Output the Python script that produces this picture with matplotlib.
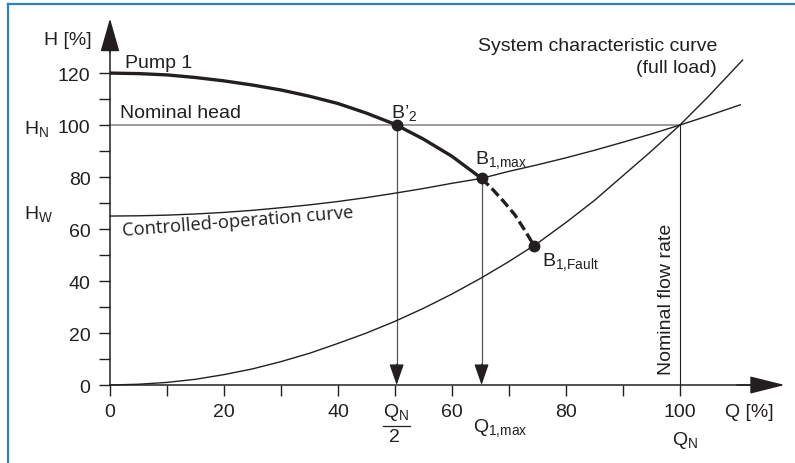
import matplotlib
matplotlib.use('Agg')
import matplotlib.pyplot as plt
from matplotlib.lines import Line2D

plt.rcParams['font.family'] = ['Liberation Sans', 'DejaVu Sans']
plt.rcParams['mathtext.fontset'] = 'custom'
plt.rcParams['mathtext.rm'] = 'Liberation Sans'
plt.rcParams['mathtext.default'] = 'regular'

# Kurven, Q und H in %
q_pump = [0, 5, 10, 15, 20, 25, 30, 35, 40, 45, 50, 55, 60, 65.2]
h_pump = [120, 119.8, 119.3, 118.3, 117.0, 115.4, 113.5, 111.1, 108.3, 104.6, 100.3, 94.6, 88.0, 79.5]
q_pump_fault = [65.2, 67, 69, 71, 73, 74.4]
h_pump_fault = [79.5, 75.6, 70.8, 65.6, 58.8, 53.6]

q_system = [0, 5, 10, 15, 20, 25, 30, 35, 40, 45, 50, 55, 60, 65, 70, 75, 80, 85, 90, 95, 100, 105, 111]
h_system = [0, 0.3, 1, 2.2, 4, 6.2, 9, 12.2, 16, 20, 24.5, 29.5, 35, 41, 47.5, 54.5, 62.5,
            71, 80.5, 90, 100, 111, 125]

q_ctrl = [0, 5, 10, 15, 20, 25, 30, 35, 40, 45, 50, 55, 60, 65.2, 70, 75, 80, 85, 90, 95, 100, 105, 110.6]
h_ctrl = [65, 65.1, 65.35, 65.8, 66.4, 67.2, 68.2, 69.3, 70.6, 72.1, 73.8, 75.6, 77.6, 79.5,
          82.2, 84.7, 87.4, 90.3, 93.4, 96.6, 100, 103.6, 107.8]

# Betriebspunkte
pt_names = ["B’$_2$", "B$_{1{,}max}$", "B$_{1{,}Fault}$"]
pt_q = [50.3, 65.2, 74.4]
pt_h = [100, 79.5, 53.6]

x_ticks = [0, 20, 40, 60, 80, 100]
x_minor = [10, 30, 50, 70, 90]
y_ticks = [0, 20, 40, 60, 80, 100, 120]
y_minor = [10, 30, 50, 70, 90, 110]

nominal_q = 100
nominal_h = 100

ink = '#231f20'

fig = plt.figure(figsize=(7.95, 4.64), dpi=100)
ax = fig.add_axes([0, 0, 1, 1])
ax.set_xlim(-19.3, 120.2)
ax.set_ylim(-30, 148.5)
ax.patch.set_alpha(0)

# Rahmen oben und links
fig.add_artist(Line2D([8 / 795, 8 / 795], [0, 1 - 5 / 464], transform=fig.transFigure,
                      color='#2f80c2', lw=1.6))
fig.add_artist(Line2D([8 / 795, 1], [1 - 5 / 464, 1 - 5 / 464], transform=fig.transFigure,
                      color='#2f80c2', lw=1.6))

# Achsen
for s in ['top', 'right']:
    ax.spines[s].set_visible(False)
ax.spines['left'].set_position(('data', 0))
ax.spines['bottom'].set_position(('data', 0))
ax.spines['left'].set_bounds(0, 138)
ax.spines['bottom'].set_bounds(0, 116)
for s in ['left', 'bottom']:
    ax.spines[s].set_linewidth(1.1)
    ax.spines[s].set_color(ink)

ax.set_xticks(x_ticks)
ax.set_xticks(x_minor, minor=True)
ax.set_yticks(y_ticks)
ax.set_yticks(y_minor, minor=True)
ax.tick_params(which='both', direction='out', length=8, width=1.0, color=ink,
               labelsize=14, labelcolor=ink)
ax.tick_params(axis='x', pad=5)
ax.tick_params(axis='y', pad=6)

ax.annotate('', xy=(0, 141), xytext=(0, 128),
            arrowprops=dict(arrowstyle='-|>,head_length=2.1,head_width=0.6',
                            color=ink, lw=1.1, shrinkA=0, shrinkB=0, mutation_scale=10))
ax.annotate('', xy=(118.4, 0), xytext=(110, 0),
            arrowprops=dict(arrowstyle='-|>,head_length=2.2,head_width=0.55',
                            color=ink, lw=1.1, shrinkA=0, shrinkB=0, mutation_scale=10))

# Hilfslinien
ax.plot([0, nominal_q], [nominal_h, nominal_h], color='#8a8a8a', lw=1.2, zorder=2)
ax.plot([nominal_q, nominal_q], [0, nominal_h], color=ink, lw=0.8, zorder=2)

for q, h in zip(pt_q[:2], pt_h[:2]):
    ax.plot([q, q], [h, 8], color='#555555', lw=0.9, zorder=2)
    ax.annotate('', xy=(q, 0), xytext=(q, 8),
                arrowprops=dict(arrowstyle='-|>,head_length=1.3,head_width=0.45',
                                color=ink, lw=0.9, shrinkA=0, shrinkB=0, mutation_scale=10))

# Kurven
ax.plot(q_system, h_system, color=ink, lw=1.0, zorder=3)
ax.plot(q_ctrl, h_ctrl, color=ink, lw=1.0, zorder=3)
ax.plot(q_pump, h_pump, color=ink, lw=2.4, zorder=4, solid_capstyle='butt')
ax.plot(q_pump_fault, h_pump_fault, color=ink, lw=2.4, zorder=4, dashes=(3, 1.3))
ax.plot(pt_q, pt_h, 'o', color=ink, ms=7.5, zorder=5)

# Beschriftungen
fs = 14
ax.text(-3.2, 133, 'H [%]', ha='right', va='center', fontsize=fs, color=ink)
ax.text(2.6, 124, 'Pump 1', ha='left', va='center', fontsize=fs, color=ink)
ax.text(1.8, 105, 'Nominal head', ha='left', va='center', fontsize=fs, color=ink)
ax.text(-15.1, 99, 'H$_N$', ha='left', va='center', fontsize=fs, color=ink)
ax.text(-15.1, 66, 'H$_W$', ha='left', va='center', fontsize=fs, color=ink)
ax.text(2.1, 59.6, 'Controlled-operation curve', ha='left', va='center', rotation=4.5,
        rotation_mode='anchor', fontsize=13.2, color=ink, family='Open Sans')
ax.text(106.5, 130.8, 'System characteristic curve', ha='right', va='center',
        fontsize=fs, color=ink)
ax.text(106.5, 122, '(full load)', ha='right', va='center', fontsize=fs, color=ink)

ax.text(49.3, 105, pt_names[0], ha='left', va='center', fontsize=fs, color=ink)
ax.text(64, 87, pt_names[1], ha='left', va='center', fontsize=fs, color=ink)
ax.text(75.8, 47.7, pt_names[2], ha='left', va='center', fontsize=fs, color=ink)

ax.text(97.7, 4.2, 'Nominal flow rate', rotation=90, ha='center', va='bottom',
        fontsize=fs, color=ink)

ax.text(107.9, -10, 'Q [%]', ha='left', va='center', fontsize=fs, color=ink)
ax.text(100.9, -20.8, 'Q$_N$', ha='center', va='center', fontsize=fs, color=ink)
ax.text(63.7, -16.2, 'Q$_{1{,}max}$', ha='left', va='center', fontsize=fs, color=ink)
ax.text(50.2, -10, 'Q$_N$', ha='center', va='center', fontsize=fs, color=ink)
ax.plot([47.9, 52.6], [-15.8, -15.8], color=ink, lw=0.9)
ax.text(50, -19.8, '2', ha='center', va='center', fontsize=fs, color=ink)

fig.savefig('out.png', dpi=100)
